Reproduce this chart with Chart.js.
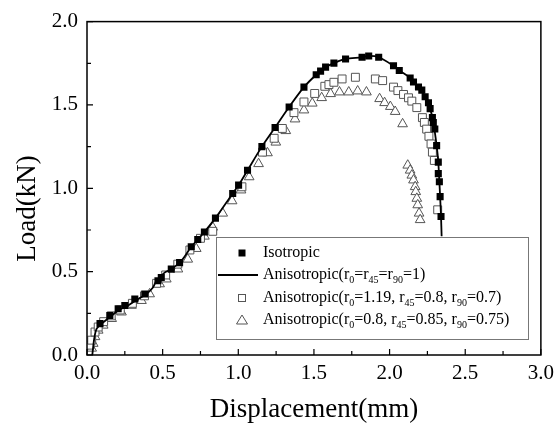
<!DOCTYPE html>
<html><head><meta charset="utf-8">
<script src="https://cdn.jsdelivr.net/npm/chart.js@4.4.1/dist/chart.umd.min.js"></script>
<style>html,body{margin:0;padding:0;background:#fff}</style>
</head><body>
<canvas id="c" width="560" height="427"></canvas>
<script>
// ---- data ----
const isoX = [0.086,0.151,0.206,0.250,0.316,0.382,0.469,0.491,0.557,0.612,0.689,0.732,0.776,0.849,0.963,1.002,1.061,1.156,1.243,1.336,1.434,1.515,1.544,1.577,1.632,1.709,1.818,1.862,1.928,2.026,2.064,2.136,2.158,2.191,2.213,2.235,2.257,2.268,2.283,2.289,2.299,2.311,2.322,2.322,2.329,2.334,2.340];
const isoY = [0.188,0.237,0.277,0.297,0.336,0.366,0.445,0.465,0.515,0.554,0.649,0.693,0.738,0.821,0.969,1.019,1.108,1.250,1.365,1.488,1.607,1.681,1.703,1.727,1.751,1.776,1.786,1.794,1.786,1.735,1.707,1.662,1.638,1.608,1.589,1.549,1.513,1.478,1.424,1.395,1.356,1.256,1.157,1.088,1.039,0.950,0.831];

const lineX = [0.035,0.048,0.064,0.097,0.151,0.206,0.272,0.338,0.393,0.436,0.459,0.513,0.557,0.623,0.689,0.732,0.776,0.849,0.963,1.002,1.061,1.156,1.243,1.336,1.434,1.515,1.577,1.632,1.709,1.818,1.862,1.928,2.026,2.064,2.136,2.191,2.235,2.268,2.289,2.311,2.322,2.334,2.340,2.344];
const lineY = [0.000,0.099,0.158,0.188,0.227,0.267,0.297,0.336,0.366,0.405,0.445,0.494,0.515,0.564,0.649,0.693,0.738,0.821,0.969,1.019,1.108,1.250,1.365,1.488,1.607,1.681,1.727,1.751,1.776,1.786,1.794,1.786,1.735,1.707,1.662,1.608,1.549,1.478,1.395,1.256,1.157,0.950,0.831,0.712];

const aniso1X = [0.020,0.031,0.053,0.074,0.110,0.160,0.220,0.300,0.380,0.460,0.520,0.600,0.680,0.750,0.831,1.024,1.160,1.237,1.291,1.368,1.434,1.505,1.572,1.599,1.632,1.686,1.774,1.906,1.954,2.026,2.055,2.092,2.125,2.147,2.180,2.217,2.230,2.245,2.260,2.274,2.283,2.296,2.318];
const aniso1Y = [0.059,0.089,0.138,0.168,0.200,0.235,0.270,0.310,0.355,0.430,0.480,0.545,0.630,0.700,0.742,1.009,1.217,1.300,1.359,1.454,1.518,1.569,1.612,1.622,1.636,1.656,1.666,1.656,1.646,1.607,1.586,1.563,1.543,1.523,1.484,1.424,1.395,1.355,1.312,1.266,1.217,1.167,0.871];

const aniso2X = [0.031,0.041,0.053,0.074,0.107,0.163,0.228,0.294,0.360,0.414,0.480,0.524,0.601,0.666,0.722,0.776,0.831,0.897,0.959,1.018,1.072,1.134,1.193,1.248,1.314,1.375,1.434,1.489,1.551,1.610,1.669,1.730,1.789,1.847,1.934,1.967,2.005,2.037,2.086,2.120,2.136,2.147,2.158,2.169,2.173,2.180,2.186,2.195,2.202];
const aniso2Y = [0.040,0.069,0.109,0.148,0.178,0.218,0.257,0.297,0.326,0.366,0.426,0.455,0.515,0.574,0.638,0.712,0.766,0.850,0.924,0.989,1.068,1.147,1.212,1.276,1.345,1.415,1.469,1.510,1.543,1.567,1.577,1.577,1.583,1.577,1.537,1.513,1.490,1.460,1.386,1.138,1.108,1.078,1.049,1.009,0.979,0.939,0.900,0.850,0.811];

const xTickValues = [0, 0.5, 1.0, 1.5, 2.0, 2.5, 3.0];
const yTickValues = [0, 0.5, 1.0, 1.5, 2.0];
const xTitle = 'Displacement(mm)';
const yTitle = 'Load(kN)';
// legend entries: segments [text, isSubscript]
const legendEntries = [
  [['Isotropic', false]],
  [['Anisotropic(r', false], ['0', true], ['=r', false], ['45', true], ['=r', false], ['90', true], ['=1)', false]],
  [['Anisotropic(r', false], ['0', true], ['=1.19, r', false], ['45', true], ['=0.8, r', false], ['90', true], ['=0.7)', false]],
  [['Anisotropic(r', false], ['0', true], ['=0.8, r', false], ['45', true], ['=0.85, r', false], ['90', true], ['=0.75)', false]]
];

const pts = (xs, ys) => xs.map((v, i) => ({x: v, y: ys[i]}));
const SERIF = '"Liberation Serif", "Times New Roman", serif';

const framePlugin = {
  id: 'frameAndLegend',
  afterDraw(chart) {
    const {ctx, chartArea: a, scales: {x, y}} = chart;
    ctx.save();
    ctx.strokeStyle = '#000';
    ctx.lineWidth = 1.5;
    ctx.strokeRect(a.left, a.top, a.right - a.left, a.bottom - a.top);
    ctx.lineWidth = 1.2;
    ctx.beginPath();
    for (let i = 0; i < xTickValues.length; i++) {
      const v = xTickValues[i];
      const px = x.getPixelForValue(v);
      ctx.moveTo(px, a.bottom); ctx.lineTo(px, a.bottom - 6);
      if (i < xTickValues.length - 1) {
        const pm = x.getPixelForValue((v + xTickValues[i + 1]) / 2);
        ctx.moveTo(pm, a.bottom); ctx.lineTo(pm, a.bottom - 4);
      }
    }
    for (let i = 0; i < yTickValues.length; i++) {
      const v = yTickValues[i];
      const py = y.getPixelForValue(v);
      ctx.moveTo(a.left, py); ctx.lineTo(a.left + 6, py);
      if (i < yTickValues.length - 1) {
        const pm = y.getPixelForValue((v + yTickValues[i + 1]) / 2);
        ctx.moveTo(a.left, pm); ctx.lineTo(a.left + 4, pm);
      }
    }
    ctx.stroke();

    // legend box
    const bx = 216, by = 237, bw = 312, bh = 102;
    ctx.fillStyle = '#fff';
    ctx.fillRect(bx, by, bw, bh);
    ctx.strokeStyle = '#777';
    ctx.lineWidth = 1;
    ctx.strokeRect(bx + 0.5, by + 0.5, bw, bh);
    const rowsY = [253, 275, 298, 320];
    const mx = 242;
    const ds = chart.data.datasets;
    // row 0: filled square
    ctx.fillStyle = '#000';
    ctx.fillRect(mx - 3.5, rowsY[0] - 3.5, 7, 7);
    // row 1: line
    ctx.strokeStyle = '#000'; ctx.lineWidth = 1.8;
    ctx.beginPath(); ctx.moveTo(218, rowsY[1]); ctx.lineTo(258, rowsY[1]); ctx.stroke();
    // row 2: open square
    ctx.strokeStyle = ds[2].borderColor; ctx.lineWidth = 1;
    ctx.strokeRect(mx - 3.5, rowsY[2] - 3.5, 7, 7);
    // row 3: open triangle
    ctx.strokeStyle = ds[3].borderColor;
    ctx.beginPath();
    ctx.moveTo(mx, rowsY[3] - 5); ctx.lineTo(mx + 5.5, rowsY[3] + 4); ctx.lineTo(mx - 5.5, rowsY[3] + 4); ctx.closePath();
    ctx.stroke();
    // texts
    ctx.fillStyle = '#000';
    ctx.textBaseline = 'middle';
    ctx.textAlign = 'left';
    legendEntries.forEach((segs, r) => {
      let tx = 263;
      segs.forEach(([t, sub]) => {
        ctx.font = (sub ? '10px ' : '16px ') + SERIF;
        ctx.fillText(t, tx, rowsY[r] + (sub ? 5 : 0));
        tx += ctx.measureText(t).width;
      });
    });
    ctx.restore();
  }
};

new Chart(document.getElementById('c'), {
  type: 'scatter',
  data: {
    datasets: [
      {label: 'Isotropic', data: pts(isoX, isoY), pointStyle: 'rect', pointRadius: 5, pointBackgroundColor: '#000', pointBorderColor: '#000', borderWidth: 0, showLine: false},
      {label: 'Anisotropic(r0=r45=r90=1)', data: pts(lineX, lineY), showLine: true, pointRadius: 0, borderColor: '#000', borderWidth: 1.8, tension: 0.3, fill: false},
      {label: 'Anisotropic(r0=1.19, r45=0.8, r90=0.7)', data: pts(aniso1X, aniso1Y), pointStyle: 'rect', pointRadius: 5.6, backgroundColor: '#fff', borderColor: '#555', pointBackgroundColor: '#fff', pointBorderColor: '#555', pointBorderWidth: 1, showLine: false},
      {label: 'Anisotropic(r0=0.8, r45=0.85, r90=0.75)', data: pts(aniso2X, aniso2Y), pointStyle: 'triangle', pointRadius: 5.6, backgroundColor: '#fff', borderColor: '#555', pointBackgroundColor: '#fff', pointBorderColor: '#555', pointBorderWidth: 1, showLine: false}
    ]
  },
  options: {
    responsive: false,
    animation: false,
    devicePixelRatio: 1,
    layout: {padding: {top: 18, right: 17, left: 0, bottom: 0}},
    plugins: {legend: {display: false}, tooltip: {enabled: false}},
    scales: {
      x: {
        type: 'linear', min: 0, max: 3,
        afterFit: s => { s.height = 72; },
        afterBuildTicks: s => { s.ticks = xTickValues.map(v => ({value: v})); },
        ticks: {padding: 6, color: '#000', font: {family: SERIF, size: 21}, callback: v => Number(v).toFixed(1), maxRotation: 0, autoSkip: false},
        grid: {display: false, drawTicks: false},
        border: {display: false},
        title: {display: true, text: xTitle, color: '#000', font: {family: SERIF, size: 27}, padding: {top: 0, bottom: 1}}
      },
      y: {
        type: 'linear', min: 0, max: 2,
        afterFit: s => { s.width = 87; },
        afterBuildTicks: s => { s.ticks = yTickValues.map(v => ({value: v})); },
        ticks: {padding: 9, color: '#000', font: {family: SERIF, size: 21}, callback: v => Number(v).toFixed(1), autoSkip: false},
        grid: {display: false, drawTicks: false},
        border: {display: false},
        title: {display: true, text: yTitle + '      ', color: '#000', font: {family: SERIF, size: 27}, padding: {top: 12, bottom: 0}}
      }
    }
  },
  plugins: [framePlugin]
});
</script>
</body></html>
